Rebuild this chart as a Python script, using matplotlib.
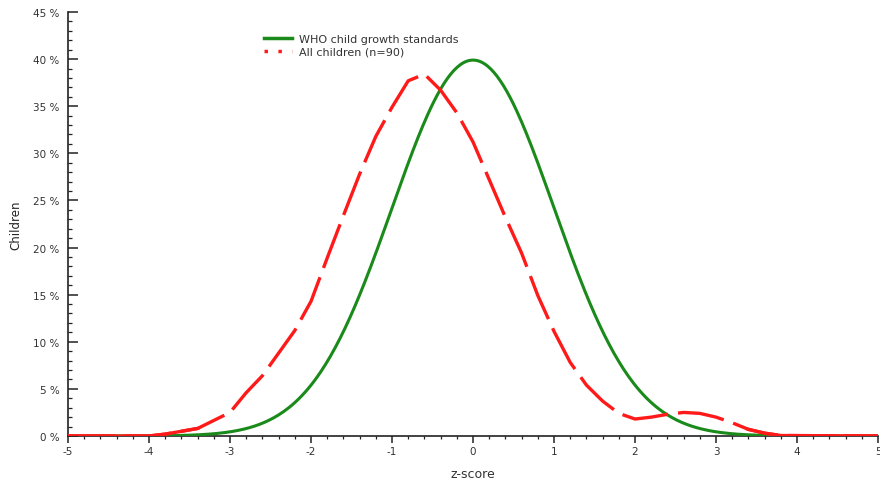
import numpy as np
import matplotlib
matplotlib.use("Agg")
import matplotlib.pyplot as plt
from matplotlib.ticker import MultipleLocator, FuncFormatter
from matplotlib.lines import Line2D

# WHO standard: standard normal density (in %)
who_x = np.linspace(-5, 5, 501)
who_y = 100 * np.exp(-who_x ** 2 / 2) / np.sqrt(2 * np.pi)

obs_x = [-5.0, -4.0, -3.8, -3.4, -3.0, -2.8, -2.6, -2.4, -2.2, -2.0, -1.8, -1.6,
         -1.4, -1.2, -1.0, -0.8, -0.6, -0.4, -0.2, 0.0, 0.2, 0.4, 0.6, 0.8,
         1.0, 1.2, 1.4, 1.6, 1.8, 2.0, 2.2, 2.4, 2.6, 2.8, 3.0, 3.2, 3.4,
         3.6, 3.8, 5.0]
obs_y = [0.0, 0.0, 0.2, 0.8, 2.5, 4.6, 6.4, 8.8, 11.2, 14.3, 18.9, 23.4,
         27.8, 31.8, 34.9, 37.7, 38.4, 36.7, 34.3, 31.2, 27.2, 23.2, 19.4, 14.9,
         11.1, 7.8, 5.4, 3.7, 2.4, 1.8, 2.0, 2.3, 2.5, 2.4, 2.0, 1.4, 0.7,
         0.3, 0.05, 0.0]

x_ticks = [-5, -4, -3, -2, -1, 0, 1, 2, 3, 4, 5]
y_ticks = [0, 5, 10, 15, 20, 25, 30, 35, 40, 45]

green = "#1a8a1a"
red = "#ff1a1a"

fig = plt.figure(figsize=(8.8, 4.81), dpi=100)
ax = fig.add_axes([0.0773, 0.0915, 0.9205, 0.8815])

ax.plot(who_x, who_y, color=green, lw=2.2, solid_capstyle="butt", zorder=3)

ox = np.array(obs_x)
oy = np.array(obs_y)
ax.plot(ox, oy, color=red, lw=2.4, dashes=(14, 3), zorder=4)
left = ox <= -3.4
right = ox >= 3.4
ax.plot(ox[left], oy[left], color=red, lw=2.4, zorder=4)
ax.plot(ox[right], oy[right], color=red, lw=2.4, zorder=4)

ax.set_xlim(-5, 5)
ax.set_ylim(0, 45)
ax.set_xticks(x_ticks)
ax.set_yticks(y_ticks)
ax.xaxis.set_minor_locator(MultipleLocator(0.2))
ax.yaxis.set_minor_locator(MultipleLocator(1))
ax.yaxis.set_major_formatter(FuncFormatter(lambda v, p: f"{int(v)} %"))
ax.xaxis.set_major_formatter(FuncFormatter(lambda v, p: f"{int(v)}"))

for s in ["top", "right"]:
    ax.spines[s].set_visible(False)
for s in ["left", "bottom"]:
    ax.spines[s].set_color("#222222")
    ax.spines[s].set_linewidth(1.2)

ax.tick_params(axis="y", which="major", direction="in", length=7, width=1.1,
               color="#222222", labelsize=7.5, labelcolor="#333333", pad=6)
ax.tick_params(axis="y", which="minor", direction="in", length=3, width=0.9,
               color="#222222")
ax.tick_params(axis="x", which="major", direction="out", length=5, width=1.1,
               color="#222222", labelsize=7.5, labelcolor="#333333", pad=2)
ax.tick_params(axis="x", which="minor", direction="out", length=2.5, width=0.9,
               color="#222222")

ax.set_xlabel("z-score", fontsize=9, color="#333333", labelpad=8)
ax.set_ylabel("Children", fontsize=8.5, color="#222222", labelpad=8)

handles = [Line2D([], [], color=green, lw=2.5),
           Line2D([], [], color=red, lw=2.5, linestyle=(0, (1, 3)))]
ax.legend(handles, ["WHO child growth standards", "All children (n=90)"],
          loc="upper left", bbox_to_anchor=(0.235, 0.962), frameon=False,
          fontsize=8.0, labelcolor="#333333", handlelength=2.5,
          handletextpad=0.7, labelspacing=0.3, borderpad=0)

fig.savefig("out.png", dpi=100)
